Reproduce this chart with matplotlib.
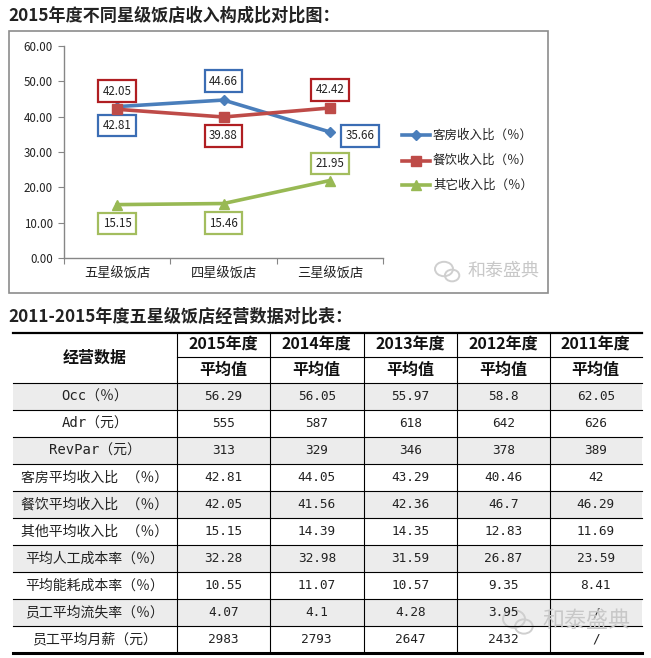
import matplotlib
matplotlib.use("Agg")
import matplotlib.pyplot as plt
from matplotlib.patches import Rectangle, Ellipse

plt.rcParams['font.family'] = ['Noto Sans CJK SC', 'DejaVu Sans']

# ---- line chart data ----
hotels = ['五星级饭店', '四星级饭店', '三星级饭店']
room_share = [42.81, 44.66, 35.66]
food_share = [42.05, 39.88, 42.42]
other_share = [15.15, 15.46, 21.95]
series_names = ['客房收入比（％）', '餐饮收入比（％）', '其它收入比（％）']
y_ticks = [0, 10, 20, 30, 40, 50, 60]

# ---- table data ----
years = ['2015年度', '2014年度', '2013年度', '2012年度', '2011年度']
row_names = ['Occ（％）', 'Adr（元）', 'RevPar（元）', '客房平均收入比 （％）',
             '餐饮平均收入比 （％）', '其他平均收入比 （％）', '平均人工成本率（％）',
             '平均能耗成本率（％）', '员工平均流失率（％）', '员工平均月薪（元）']
occ = ['56.29', '56.05', '55.97', '58.8', '62.05']
adr = ['555', '587', '618', '642', '626']
revpar = ['313', '329', '346', '378', '389']
room_avg = ['42.81', '44.05', '43.29', '40.46', '42']
food_avg = ['42.05', '41.56', '42.36', '46.7', '46.29']
other_avg = ['15.15', '14.39', '14.35', '12.83', '11.69']
labor_cost = ['32.28', '32.98', '31.59', '26.87', '23.59']
energy_cost = ['10.55', '11.07', '10.57', '9.35', '8.41']
turnover = ['4.07', '4.1', '4.28', '3.95', '/']
salary = ['2983', '2793', '2647', '2432', '/']
table_rows = [occ, adr, revpar, room_avg, food_avg, other_avg,
              labor_cost, energy_cost, turnover, salary]

W, H = 651, 658
fig = plt.figure(figsize=(W / 100, H / 100), dpi=100)

# background axes in pixel coordinates
bg = fig.add_axes([0, 0, 1, 1])
bg.set_xlim(0, W)
bg.set_ylim(H, 0)
bg.axis('off')

bg.text(8, 16, '2015年度不同星级饭店收入构成比对比图：', fontsize=12.3,
        fontweight='bold', color='#222222', va='center', ha='left')
bg.add_patch(Rectangle((9, 31), 539, 262, fill=False, ec='#8c8c8c', lw=1.2))

# ---- line chart ----
ax = fig.add_axes([64 / W, 1 - 258.3 / H, 319 / W, 212.6 / H])
ax.patch.set_alpha(0)
xs = [0.5, 1.5, 2.5]
colors = ['#4a7ebb', '#be4b48', '#98b954']
box_colors = ['#3b6db4', '#b01e22', '#a3bd5e']
markers = ['D', 's', '^']
msizes = [5.5, 7, 7.5]
series = [room_share, food_share, other_share]
# label offsets (pixels) for each series/point
offsets = [[(0, -19), (0, 19), (30, -4)],
           [(0, 18), (0, -19), (0, 18)],
           [(0, -19), (0, -19.5), (0, 17)]]
for vals, c, bc, m, ms, offs in zip(series, colors, box_colors, markers, msizes, offsets):
    ax.plot(xs, vals, color=c, lw=2.6, marker=m, ms=ms, zorder=3)
    for x, v, (dx, dy) in zip(xs, vals, offs):
        ax.annotate(f'{v:.2f}', (x, v), xytext=(dx, dy), textcoords='offset pixels',
                    ha='center', va='center', fontsize=8.3, color='#222222',
                    bbox=dict(boxstyle='square,pad=0.38', fc='white', ec=bc, lw=1.6))

ax.set_xlim(0, 3)
ax.set_ylim(0, 60)
ax.set_yticks(y_ticks)
ax.set_yticklabels([f'{t:.2f}' for t in y_ticks], fontsize=8.3, color='#222222')
ax.set_xticks([0, 1, 2, 3])
ax.set_xticklabels([])
ax.set_xticks(xs, minor=True)
ax.set_xticklabels(hotels, minor=True, fontsize=9.5, color='#222222')
ax.tick_params(axis='x', which='minor', length=0, pad=7)
ax.tick_params(axis='x', which='major', length=4, color='#868686', direction='out')
ax.tick_params(axis='y', length=4, color='#868686', direction='out', pad=4)
for s in ['top', 'right']:
    ax.spines[s].set_visible(False)
for s in ['left', 'bottom']:
    ax.spines[s].set_color('#868686')
    ax.spines[s].set_linewidth(1)

# legend drawn by hand
leg_y = [135, 160.5, 185]
for name, c, m, ms, y in zip(series_names, colors, markers, msizes, leg_y):
    bg.plot([402, 430], [y, y], color=c, lw=2.6)
    bg.plot([416], [y], color=c, marker=m, ms=ms)
    bg.text(433, y, name, fontsize=9, va='center', ha='left', color='#222222')

# watermark
def watermark(x, y, size):
    bg.add_patch(Ellipse((x, y - 2), size * 1.0, size * 0.8, fill=False, ec='#cfcfcf', lw=1.4))
    bg.add_patch(Ellipse((x + size * 0.45, y + size * 0.25), size * 0.8, size * 0.65,
                         fill=False, ec='#cfcfcf', lw=1.4))
    bg.text(x + size * 1.3, y, '和泰盛典', fontsize=size * 0.72, color='#c8c8c8',
            va='center', ha='left', zorder=5)

watermark(444, 271, 18)

# ---- table ----
bg.text(8, 317, '2011-2015年度五星级饭店经营数据对比表：', fontsize=12.3,
        fontweight='bold', color='#222222', va='center', ha='left')

col_edges = [12.5, 177, 270, 363.5, 457, 550, 641.5]
top, mid, head_bot, row_h = 333, 356.7, 383, 27
n_rows = len(table_rows)
bottom = head_bot + row_h * n_rows

for i in range(n_rows):
    if i % 2 == 0:
        bg.add_patch(Rectangle((col_edges[0], head_bot + i * row_h), col_edges[-1] - col_edges[0],
                               row_h, fc='#ececec', ec='none', zorder=0))

bg.plot([col_edges[0], col_edges[-1]], [top, top], color='black', lw=1.6)
bg.plot([col_edges[1], col_edges[-1]], [mid, mid], color='black', lw=0.8)
for i in range(n_rows):
    y = head_bot + i * row_h
    bg.plot([col_edges[0], col_edges[-1]], [y, y], color='black', lw=0.8)
bg.plot([col_edges[0], col_edges[-1]], [bottom, bottom], color='black', lw=2.2)
for x in col_edges[1:-1]:
    bg.plot([x, x], [top, bottom], color='black', lw=0.8)

centers = [(a + b) / 2 for a, b in zip(col_edges[:-1], col_edges[1:])]
bg.text(centers[0], (top + head_bot) / 2, '经营数据', fontsize=11.5, fontweight='bold',
        ha='center', va='center', color='#111111')
for cx, yr in zip(centers[1:], years):
    bg.text(cx, (top + mid) / 2, yr, fontsize=11.5, fontweight='bold',
            ha='center', va='center', color='#111111')
    bg.text(cx, (mid + head_bot) / 2, '平均值', fontsize=11.5, fontweight='bold',
            ha='center', va='center', color='#111111')

mono = ['DejaVu Sans Mono', 'Noto Sans CJK SC']
for i, (name, vals) in enumerate(zip(row_names, table_rows)):
    cy = head_bot + (i + 0.5) * row_h
    bg.text(centers[0], cy, name, fontsize=10, family=mono, ha='center', va='center',
            color='#222222')
    for cx, v in zip(centers[1:], vals):
        bg.text(cx, cy, v, fontsize=9.2, family=mono, ha='center', va='center',
                color='#222222')

watermark(514, 621, 22)

fig.savefig('out.png', dpi=100)
